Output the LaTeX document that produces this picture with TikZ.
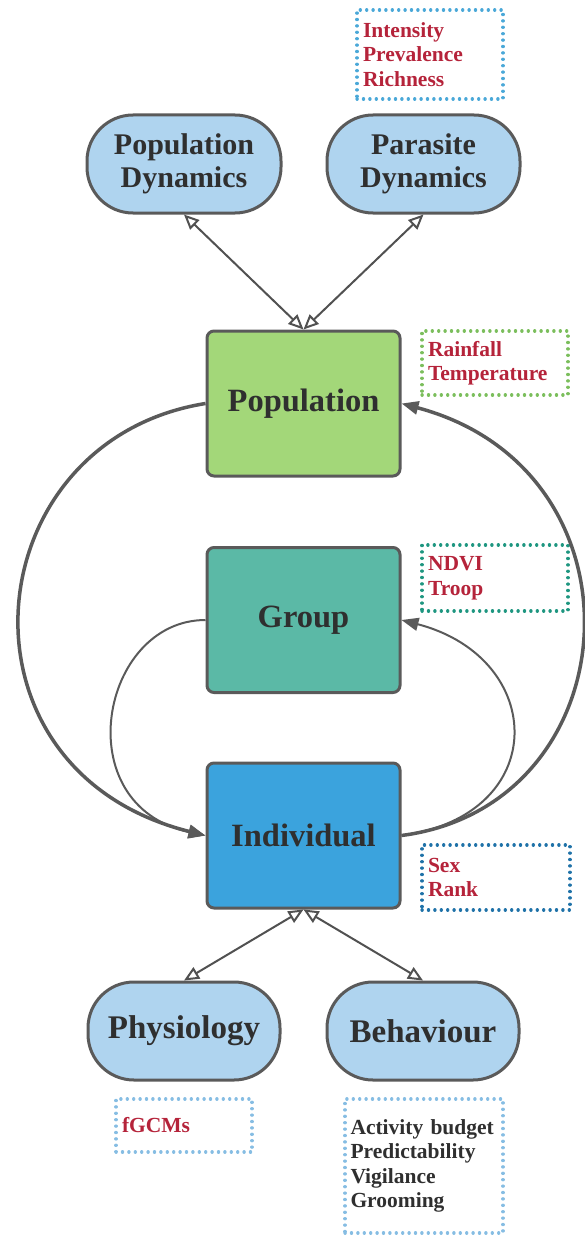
\documentclass[tikz,border=0pt]{standalone}
\usepackage{fontspec}
\setmainfont{Liberation Serif}
\usepackage{xcolor}
\usepackage{tikz}
\usetikzlibrary{positioning,
                arrows.meta,
                calc}

\definecolor{ink}{HTML}{2F2F2F}
\definecolor{edge}{HTML}{5A5A5A}
\definecolor{crimson}{HTML}{B5233A}
\definecolor{pillblue}{HTML}{AFD4EF}
\definecolor{popgreen}{HTML}{A3D779}
\definecolor{grpteal}{HTML}{5BB9A6}
\definecolor{indblue}{HTML}{3BA3DD}
\definecolor{topdots}{HTML}{4AA8D8}
\definecolor{popdots}{HTML}{7BBE5C}
\definecolor{grpdots}{HTML}{1E9680}
\definecolor{inddots}{HTML}{1F72A8}
\definecolor{lowdots}{HTML}{86BDE3}

\begin{document}
\begin{tikzpicture}[x=1pt,y=-1pt,
  level/.style={draw=edge,line width=3pt,rounded corners=7pt,minimum width=193pt,
    minimum height=145pt,text=ink,font=\fontsize{32.5}{36}\selectfont\bfseries},
  pill/.style={draw=edge,line width=3pt,rounded corners=46pt,fill=pillblue,
    minimum width=193pt,minimum height=98pt,align=center,text=ink},
  note/.style={draw=#1,line width=3.2pt,dash pattern=on 0.2pt off 6.2pt,line cap=round,
    align=left,inner xsep=6pt,text=crimson,
    font=\fontsize{21.5}{24.5}\selectfont\bfseries},
  loop/.style={draw=edge,line width=3.5pt,-{Triangle[length=17pt,width=13pt]}},
  thin loop/.style={loop,line width=2pt},
  both/.style={draw=edge!90!black,line width=2pt,
    {Triangle[open,length=15pt,width=13pt]}-{Triangle[open,length=15pt,width=13pt]}}]
\useasboundingbox (0,0) rectangle (584,1236);

% levels
\node [level,fill=popgreen] (pop) at (303.5,403.5) {Population};
\node [level,fill=grpteal] (grp) at (303.5,620) {Group};
\node [level,fill=indblue] (ind) at (303.5,835.5) {Individual};

% outcomes
\node [pill,minimum width=194pt,font=\fontsize{30}{33}\selectfont\bfseries]
  (popdyn) at (184,164) {Population\\Dynamics};
\node [pill,font=\fontsize{30}{33}\selectfont\bfseries]
  (pardyn) at (423.5,164) {Parasite\\Dynamics};
\node [pill,minimum width=192pt,font=\fontsize{33}{36}\selectfont\bfseries]
  (phys) at (184,1031) {Physiology};
\node [pill,minimum width=192pt,font=\fontsize{33}{36}\selectfont\bfseries]
  (behav) at (423,1031) {Behaviour};

% measures
\node [note=topdots,text width=134pt,minimum height=89pt] (parvar) at (430,54.5)
  {Intensity\\Prevalence\\Richness};
\node [note=popdots,text width=134pt,minimum height=64pt] (popvar) at (495,363)
  {Rainfall\\Temperature};
\node [note=grpdots,text width=134pt,minimum height=66pt] (grpvar) at (495,578)
  {NDVI\\Troop};
\node [note=inddots,text width=136pt,minimum height=65pt] (indvar) at (496,877.5)
  {Sex\\Rank};
\node [note=lowdots,text width=124pt,minimum height=53pt] (physvar) at (184,1125.5)
  {fGCMs};
\node [note=lowdots,text=ink,text width=147pt,inner xsep=5.5pt,minimum height=134pt]
  (behavvar) at (424,1166) {\mbox{Activity budget}\\Predictability\\Vigilance\\Grooming};

\draw [both] (popdyn.south) -- (pop.north);
\draw [both] (pardyn.south) -- (pop.north);
\draw [both] (phys.north) -- (ind.south);
\draw [both] (behav.north) -- (ind.south);

\draw [loop] (pop.west) .. controls +(-232,37) and +(-262,-65) .. (ind.west);
\draw [thin loop] (grp.west) .. controls +(-105,0) and +(-140,-30) .. (ind.west);
\draw [loop] (ind.east) .. controls +(230,-30) and +(252,67) .. (pop.east);
\draw [thin loop] (ind.east) .. controls +(150,-20) and +(146,38) .. (grp.east);
\end{tikzpicture}
\end{document}
